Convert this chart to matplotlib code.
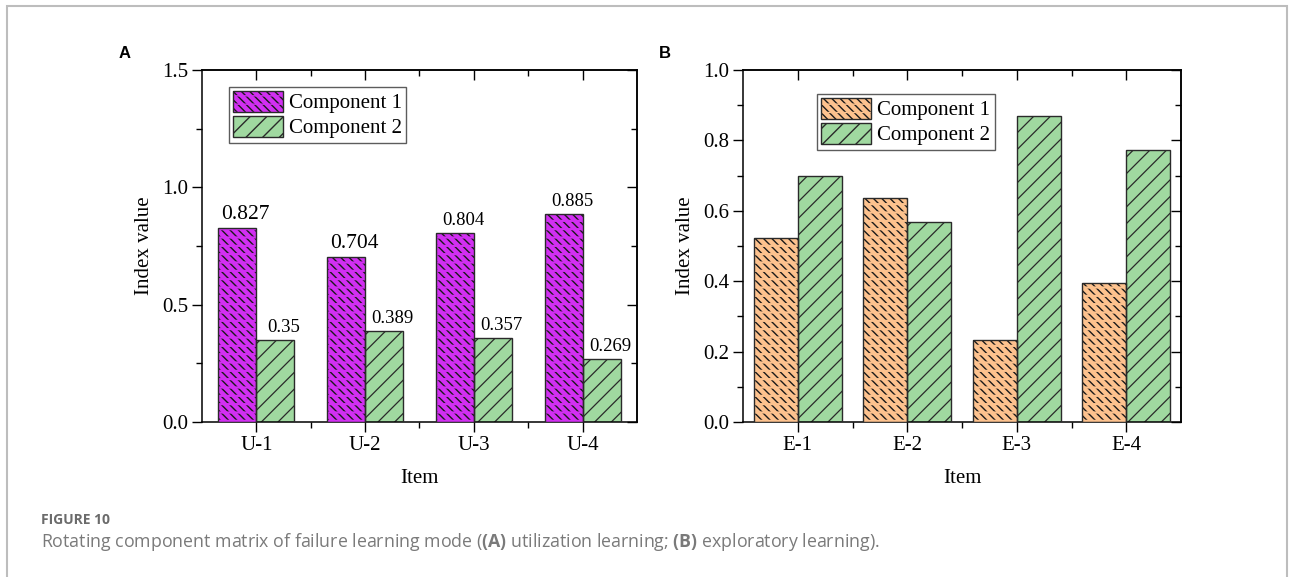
import matplotlib
matplotlib.use('Agg')
import matplotlib.pyplot as plt
from matplotlib.patches import Rectangle
from matplotlib.ticker import FixedLocator, MultipleLocator

# panel A: utilization learning
items_a = ['U-1', 'U-2', 'U-3', 'U-4']
comp1_a = [0.827, 0.704, 0.804, 0.885]
comp2_a = [0.35, 0.389, 0.357, 0.269]

# panel B: exploratory learning
items_b = ['E-1', 'E-2', 'E-3', 'E-4']
comp1_b = [0.523, 0.637, 0.233, 0.394]
comp2_b = [0.699, 0.569, 0.870, 0.773]

names = ['Component 1', 'Component 2']

plt.rcParams['font.family'] = ['Liberation Serif', 'DejaVu Serif']
plt.rcParams['mathtext.fontset'] = 'custom'
plt.rcParams['mathtext.bf'] = 'Open Sans:bold'
plt.rcParams['mathtext.rm'] = 'Open Sans'

EDGE = '#2a2a2a'
GREEN = '#a0d9a0'


def hatched(ax, x, h, w, hcol, hatch, hlw, **kw):
    with plt.rc_context({'hatch.linewidth': hlw}):
        bars = ax.bar(x, h, w, hatch=hatch, **kw)
    for b in bars:
        if hasattr(b, 'set_hatch_linewidth'):
            b.set_hatch_linewidth(hlw)
        b.set_edgecolor(hcol)
    return bars


def panel(ax, items, c1, c2, col1, width, ymax, ymajor, yminor, leg_xy):
    x = list(range(1, len(items) + 1))
    x1 = [v - width / 2 for v in x]
    x2 = [v + width / 2 for v in x]

    # component 1: rows of short backslash strokes
    b1 = hatched(ax, x1, c1, width, '#1a1a1a', '\\\\\\\\', 1.0, facecolor=col1, lw=0, zorder=2)
    o1 = hatched(ax, x1, c1, width, col1, '--', 1.6, facecolor='none', lw=0, zorder=3)
    e1 = ax.bar(x1, c1, width, facecolor='none', edgecolor=EDGE, lw=1, zorder=4)

    # component 2: plain diagonal hatch
    b2 = hatched(ax, x2, c2, width, EDGE, '//', 0.9, facecolor=GREEN, lw=0, zorder=2)
    e2 = ax.bar(x2, c2, width, facecolor='none', edgecolor=EDGE, lw=1, zorder=4)

    ax.set_xlim(0.5, len(items) + 0.5)
    ax.set_ylim(0, ymax)
    ax.set_xticks(x, items)
    ax.xaxis.set_minor_locator(FixedLocator([v + 0.5 for v in x[:-1]]))
    ax.yaxis.set_major_locator(MultipleLocator(ymajor))
    ax.yaxis.set_minor_locator(MultipleLocator(yminor))
    ax.tick_params(which='major', direction='out', length=7, width=1,
                   labelsize=15, pad=3)
    ax.tick_params(which='minor', direction='out', length=4, width=1)
    for s in ax.spines.values():
        s.set_linewidth(1.1)

    top = ax.secondary_xaxis('top')
    top.set_xticks(x)
    top.xaxis.set_minor_locator(FixedLocator([v + 0.5 for v in x[:-1]]))
    top.tick_params(which='major', direction='in', length=7, width=1, labeltop=False)
    top.tick_params(which='minor', direction='in', length=4, width=1)
    right = ax.secondary_yaxis('right')
    right.yaxis.set_major_locator(MultipleLocator(ymajor))
    right.yaxis.set_minor_locator(MultipleLocator(yminor))
    right.tick_params(which='major', direction='in', length=7, width=1, labelright=False)
    right.tick_params(which='minor', direction='in', length=4, width=1)
    for sec in (top, right):
        for s in sec.spines.values():
            s.set_linewidth(1.1)

    ax.set_xlabel('Item', fontsize=15, labelpad=10)
    ax.set_ylabel('Index value', fontsize=15, labelpad=6)

    leg = ax.legend([(b1, o1, e1), (b2, e2)], names, loc='upper left',
                    bbox_to_anchor=leg_xy, borderaxespad=0, fontsize=15,
                    frameon=True, fancybox=False, edgecolor='#333333',
                    handlelength=2.4, handleheight=1.15, labelspacing=0.12,
                    handletextpad=0.3, borderpad=0.2)
    leg.get_frame().set_linewidth(1)
    leg.set_zorder(10)
    return x1, x2


fig = plt.figure(figsize=(12.92, 5.77), dpi=100)
ax_a = fig.add_axes([0.1563, 0.2686, 0.3367, 0.6101])
ax_b = fig.add_axes([0.5751, 0.2686, 0.3390, 0.6101])

xa1, xa2 = panel(ax_a, items_a, comp1_a, comp2_a, '#d22ff2', 0.35,
                 1.5, 0.5, 0.25, (0.062, 0.952))
panel(ax_b, items_b, comp1_b, comp2_b, '#fdc28e', 0.4,
      1.0, 0.2, 0.1, (0.169, 0.932))

# value labels on panel A
sizes_a = [15.5, 15.5, 13.5, 13.5]
for xs, vals, sizes in ((xa1, comp1_a, sizes_a), (xa2, comp2_a, [13.5] * 4)):
    for xv, v, fs in zip(xs, vals, sizes):
        ax_a.annotate(f'{v:g}', (xv, v), xytext=(6, 3), textcoords='offset points',
                      ha='center', va='bottom', fontsize=fs, zorder=6)

for txt, xpos in (('A', 125), ('B', 665)):
    fig.text(xpos / 1292, 1 - 53 / 577, txt, family='Liberation Sans',
             weight='bold', fontsize=12, ha='center', va='center')

fig.text(41 / 1292, 1 - 520 / 577, 'FIGURE 10', family='Open Sans',
         weight='bold', fontsize=10, color='#6b6b6b', va='center')
fig.text(41 / 1292, 1 - 542 / 577,
         r'Rotating component matrix of failure learning mode ($\mathbf{(A)}$ '
         r'utilization learning; $\mathbf{(B)}$ exploratory learning).',
         family='Open Sans', fontsize=12.8, color='#7a7a7a', va='center')

# outer frame of the figure panel
fig.add_artist(Rectangle((7 / 1292, -0.05), 1280 / 1292, 1.05 - 6 / 577,
                         transform=fig.transFigure, fill=False,
                         edgecolor='#bdbdbd', lw=1.5))

fig.savefig('out.png', dpi=100)
